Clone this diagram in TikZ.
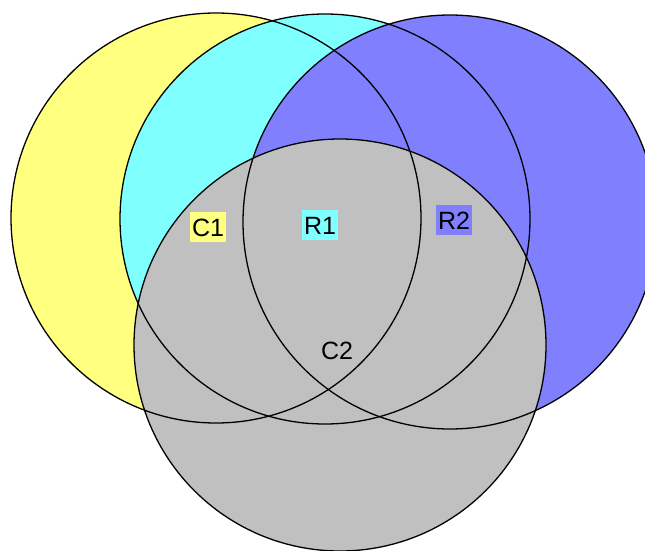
\documentclass[tikz,border=0pt]{standalone}
\usepackage{fontspec}
\setmainfont{Liberation Sans}
\definecolor{SetYellow}{HTML}{FFFF80}
\definecolor{SetCyan}{HTML}{80FFFF}
\definecolor{SetBlue}{HTML}{8080FF}
\definecolor{SetGray}{HTML}{C0C0C0}

\begin{document}
\begin{tikzpicture}[x=1pt,y=-1pt]
    \tikzset{setring/.style={draw=black,line width=1.3pt},
      setlabel/.style={inner xsep=2pt,inner ysep=0pt,minimum height=30pt,text height=18pt,text depth=0pt,font=\fontsize{25}{27}\selectfont}}
    \useasboundingbox (0,0) rectangle (645,551);
    \clip (0,0) rectangle (645,551);
    \coordinate (c1) at (216,218);
    \coordinate (r1) at (325,219);
    \coordinate (r2) at (450,222);
    \coordinate (c2) at (340,345);
    % fills first, outlines on top
    \fill[SetYellow] (c1) circle[radius=205pt];
    \fill[SetCyan] (r1) circle[radius=205pt];
    \fill[SetBlue] (r2) circle[radius=207pt];
    \fill[SetGray] (c2) circle[radius=206pt];
    \draw[setring] (c1) circle[radius=205pt];
    \draw[setring] (r1) circle[radius=205pt];
    \draw[setring] (r2) circle[radius=207pt];
    \draw[setring] (c2) circle[radius=206pt];
    \node[setlabel,fill=SetYellow] (c1label) at (208,227) {C1};
    \node[setlabel,fill=SetCyan] (r1label) at (320,225) {R1};
    \node[setlabel,fill=SetBlue] (r2label) at (454,220) {R2};
    \node[setlabel] (c2label) at (337,350) {C2};
\end{tikzpicture}
\end{document}
